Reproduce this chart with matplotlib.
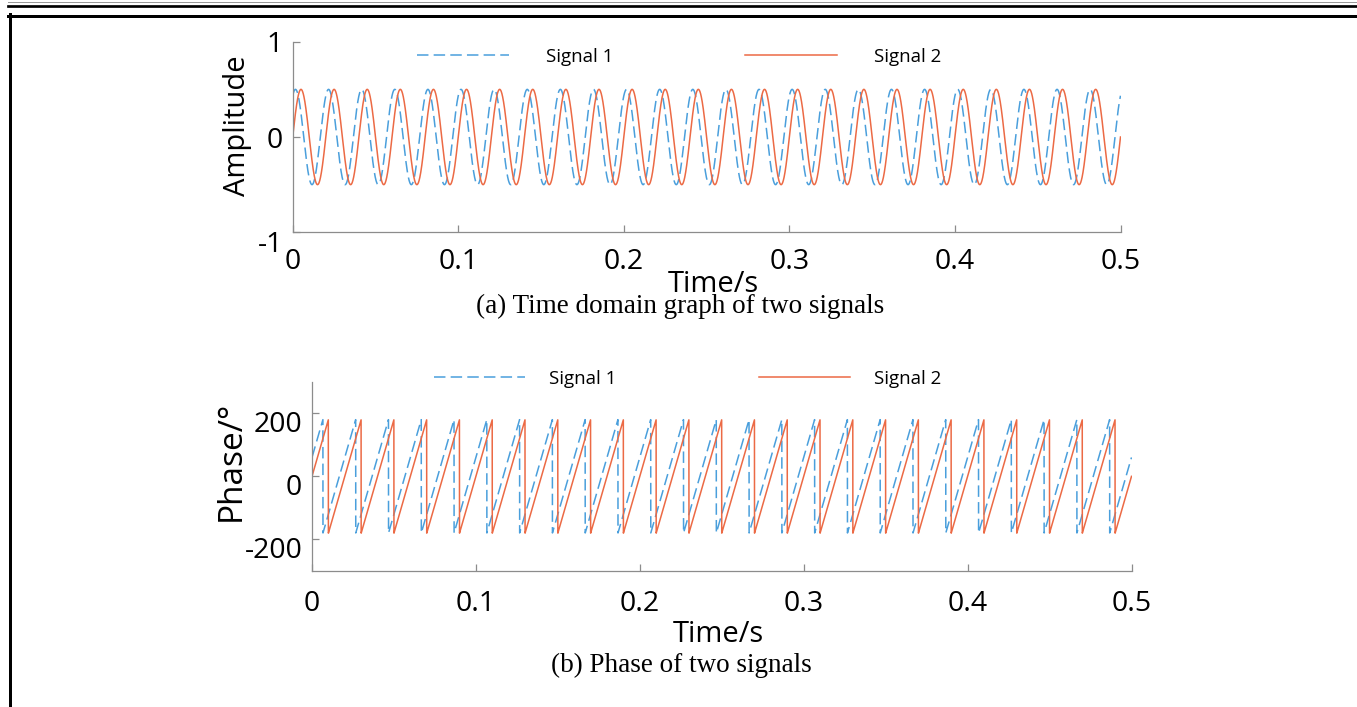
import numpy as np
import matplotlib
matplotlib.use('Agg')
import matplotlib.pyplot as plt
from matplotlib.lines import Line2D
import matplotlib.transforms as mtransforms

# ---------------- data ----------------
series_names = ['Signal 1', 'Signal 2']
t_start, t_end = 0.0, 0.5            # s
n_samples = 10001
frequency_hz = 50.0                  # 25 cycles in 0.5 s
amplitude = 0.5
phase_offsets_deg = [60.0, 0.0]      # Signal 1 leads Signal 2 by ~60 deg
time_ticks = [0, 0.1, 0.2, 0.3, 0.4, 0.5]
time_tick_labels = ['0', '0.1', '0.2', '0.3', '0.4', '0.5']
amp_ticks = [-1, 0, 1]
amp_tick_labels = ['-1', '0', '1']
phase_ticks = [-200, 0, 200]
phase_tick_labels = ['-200', '0', '200']
captions = ['(a) Time domain graph of two signals', '(b) Phase of two signals']

# ---------------- style ----------------
W, H, DPI = 1357, 707, 100
colors = ['#4a9fdc', '#ec6a45']
styles = ['--', '-']
SANS = ['Open Sans', 'DejaVu Sans']
SERIF = ['Liberation Serif', 'DejaVu Serif']
plt.rcParams['font.family'] = SANS
GRAY = '#8c8c8c'

fig = plt.figure(figsize=(W / DPI, H / DPI), dpi=DPI)


def px_rect(left, top, right, bottom):
    return [left / W, 1 - bottom / H, (right - left) / W, (bottom - top) / H]


def ftext(x, y, s, **kw):
    fig.text(x / W, 1 - y / H, s, ha='center', va='center', **kw)


t = np.linspace(t_start, t_end, n_samples)

ax1 = fig.add_axes(px_rect(292.7, 41.7, 1120.5, 232.3))
ax2 = fig.add_axes(px_rect(312.0, 381.7, 1131.5, 571.0))

for i, name in enumerate(series_names):
    arg = 360.0 * frequency_hz * t + phase_offsets_deg[i]
    sig = amplitude * np.sin(np.deg2rad(arg))
    ph = np.mod(arg + 180.0, 360.0) - 180.0
    kw = dict(color=colors[i], lw=1.1, label=name)
    if styles[i] == '--':
        kw['dashes'] = (7.5, 3.4)
    ax1.plot(t, sig, **kw)
    ax2.plot(t, ph, **kw)

for ax in (ax1, ax2):
    ax.set_xlim(0, 0.5)
    ax.set_xticks(time_ticks)
    ax.set_xticklabels(time_tick_labels)
    for sp in ('top', 'right'):
        ax.spines[sp].set_visible(False)
    for sp in ('left', 'bottom'):
        ax.spines[sp].set_color(GRAY)
        ax.spines[sp].set_linewidth(0.9)
    ax.tick_params(direction='in', length=5, width=0.9, color=GRAY,
                   labelcolor='black', labelsize=20.5)
    ax.tick_params(axis='y', pad=7)
    ax.set_facecolor('none')
ax1.tick_params(axis='x', pad=11)
ax2.tick_params(axis='x', pad=13.5)

ax1.set_ylim(-1, 1)
ax1.set_yticks(amp_ticks)
ax1.set_yticklabels(amp_tick_labels)
ax2.set_ylim(-300, 300)
ax2.set_yticks(phase_ticks)
ax2.set_yticklabels(phase_tick_labels)

# small vertical offsets of some y tick labels seen in the reference
off = mtransforms.ScaledTranslation(0, -8 / DPI, fig.dpi_scale_trans)
for lab in ax2.get_yticklabels():
    lab.set_transform(lab.get_transform() + off)
off1 = mtransforms.ScaledTranslation(0, -9 / DPI, fig.dpi_scale_trans)
ax1.get_yticklabels()[0].set_transform(ax1.get_yticklabels()[0].get_transform() + off1)

# legends
leg_fs = 13.5
ax1.legend(ncol=2, frameon=False, loc='center left',
           bbox_to_anchor=(417 / W, 1 - 57 / H), bbox_transform=fig.transFigure,
           borderpad=0, borderaxespad=0, fontsize=leg_fs,
           handlelength=4.9, handletextpad=2.0, columnspacing=7.0)
ax2.legend(ncol=2, frameon=False, loc='center left',
           bbox_to_anchor=(434 / W, 1 - 379 / H), bbox_transform=fig.transFigure,
           borderpad=0, borderaxespad=0, fontsize=leg_fs,
           handlelength=4.85, handletextpad=1.3, columnspacing=7.6)

# axis labels
ftext(238, 126, 'Amplitude', rotation=90, fontsize=21)
ftext(713, 284.5, 'Time/s', fontsize=21)
ftext(231, 461, 'Phase/°', rotation=90, fontsize=24)
ftext(718, 635, 'Time/s', fontsize=21)

# captions
ftext(680, 306.5, captions[0], family=SERIF, fontsize=19.5)
ftext(681, 665, captions[1], family=SERIF, fontsize=19.5)

# page frame lines
def hline(y, lw, color='black'):
    fig.add_artist(Line2D([8 / W, 1], [1 - y / H, 1 - y / H], lw=lw * 72 / DPI,
                          color=color, transform=fig.transFigure))

hline(2.0, 1.0, '#9a9a9a')
hline(6.0, 2.7)
hline(15.7, 3.0)
fig.add_artist(Line2D([9.5 / W, 9.5 / W], [1 - 14.2 / H, 0], lw=3.0 * 72 / DPI,
                      color='black', transform=fig.transFigure))

fig.savefig('out.png', dpi=DPI)
